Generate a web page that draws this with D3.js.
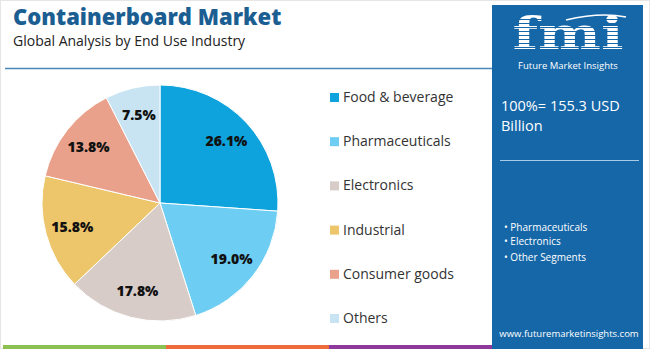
<!DOCTYPE html>
<html><head><meta charset="utf-8">
<script src="https://cdn.jsdelivr.net/npm/d3@7"></script>
<style>
html,body{margin:0;padding:0;background:#fff;}
svg{display:block;}
</style></head>
<body>
<svg id="chart" width="650" height="349"></svg>
<script>
const categories = ["Food & beverage","Pharmaceuticals","Electronics","Industrial","Consumer goods","Others"];
const values = [26.1, 19.0, 17.8, 15.8, 13.8, 7.5];
const colors = ["#0ea3dd","#6dcdf2","#d8ccc9","#edc56b","#e9a18b","#c8e4f3"];
const title = "Containerboard Market";
const subtitle = "Global Analysis by End Use Industry";
const panelTotal = ["100%= 155.3 USD","Billion"];
const panelBullets = ["Pharmaceuticals","Electronics","Other Segments"];
const stripeColors = ["#8cc152","#ee6b3b","#8e3a9c"];

const svg = d3.select("#chart");
const W = 650, H = 349;
svg.append("rect").attr("x",0.5).attr("y",0.5).attr("width",W-1).attr("height",H-1).attr("fill","#fff").attr("stroke","#e6e6e6");

// title
svg.append("text").attr("x",13).attr("y",25).text(title)
  .attr("font-family","Open Sans, sans-serif").attr("font-weight",800).attr("font-size",22)
  .attr("fill","#1b5e92");
svg.append("text").attr("x",13).attr("y",46).text(subtitle)
  .attr("font-family","Open Sans, sans-serif").attr("font-size",14).attr("fill","#222");
svg.append("line").attr("x1",5).attr("x2",492).attr("y1",68.5).attr("y2",68.5)
  .attr("stroke","#4a86b8").attr("stroke-width",1.5);

// bottom stripes
const sx = d3.scaleBand().domain(d3.range(stripeColors.length)).range([3,492]);
svg.selectAll("rect.stripe").data(stripeColors).join("rect").attr("class","stripe")
  .attr("x",(d,i)=>sx(i)).attr("width",sx.bandwidth()).attr("y",345).attr("height",4).attr("fill",d=>d);

// pie
const cx = 160, cy = 203, R = 118;
const pie = d3.pie().sort(null).value(d=>d)(values);
const arc = d3.arc().innerRadius(0).outerRadius(R);
const labelArc = d3.arc().innerRadius(R*0.77).outerRadius(R*0.77);
const g = svg.append("g").attr("transform",`translate(${cx},${cy})`);
g.selectAll("path").data(pie).join("path").attr("d",arc).attr("fill",(d,i)=>colors[i])
  .attr("stroke","#fff").attr("stroke-width",1);
g.selectAll("text").data(pie).join("text")
  .attr("transform",d=>`translate(${labelArc.centroid(d)})`)
  .attr("text-anchor","middle").attr("dy","0.35em")
  .attr("font-family","Open Sans, sans-serif").attr("font-weight",800).attr("font-size",14)
  .attr("fill","#111").text(d=>d.value.toFixed(1)+"%");

// legend
const ly = d3.scalePoint().domain(categories).range([97,318]);
const lg = svg.append("g");
lg.selectAll("rect").data(categories).join("rect")
  .attr("x",330).attr("y",d=>ly(d)-4).attr("width",9).attr("height",9)
  .attr("fill",(d,i)=>colors[i]);
lg.selectAll("text").data(categories).join("text")
  .attr("x",343).attr("y",d=>ly(d)).attr("dy","0.35em")
  .attr("font-family","Open Sans, sans-serif").attr("font-size",14).attr("fill","#333").text(d=>d);

// right panel
const px = 492, pw = 151;
svg.append("rect").attr("x",px).attr("y",5).attr("width",pw).attr("height",344).attr("fill","#1667a8");
// logo
const logo = svg.append("g");
logo.append("text").attr("transform","translate(568,49) scale(1.35,1)").attr("text-anchor","middle")
  .attr("font-family","DejaVu Serif, serif").attr("font-weight",700).attr("font-size",44)
  .attr("fill","#fff").text("fmi");
for(let yy=19; yy<52; yy+=4){
  logo.append("line").attr("x1",510).attr("x2",628).attr("y1",yy+0.5).attr("y2",yy+0.5)
    .attr("stroke","#1667a8").attr("stroke-width",1.1);
}
logo.append("path").attr("d","M566,20 Q600,12 626,17").attr("fill","none").attr("stroke","#fff").attr("stroke-width",1.5);
logo.append("text").attr("x",568).attr("y",69).attr("text-anchor","middle")
  .attr("font-family","Open Sans, sans-serif").attr("font-size",9.5).attr("fill","#fff").text("Future Market Insights");
svg.append("g").selectAll("text").data(panelTotal).join("text")
  .attr("x",501).attr("y",(d,i)=>111+i*20).attr("font-family","Open Sans, sans-serif")
  .attr("font-size",14.5).attr("fill","#fff").text(d=>d);
svg.append("line").attr("x1",500).attr("x2",639).attr("y1",160.5).attr("y2",160.5).attr("stroke","#a9cbe6").attr("stroke-width",1);
const by = [227,241,257];
svg.append("g").selectAll("text").data(panelBullets).join("text")
  .attr("x",504).attr("y",(d,i)=>by[i]).attr("dy","0.35em").attr("font-family","Open Sans, sans-serif")
  .attr("font-size",10).attr("fill","#fff").text(d=>"• "+d);
svg.append("text").attr("x",569).attr("y",337).attr("text-anchor","middle")
  .attr("font-family","Open Sans, sans-serif").attr("font-size",9.5).attr("fill","#fff").text("www.futuremarketinsights.com");
</script>
</body></html>
